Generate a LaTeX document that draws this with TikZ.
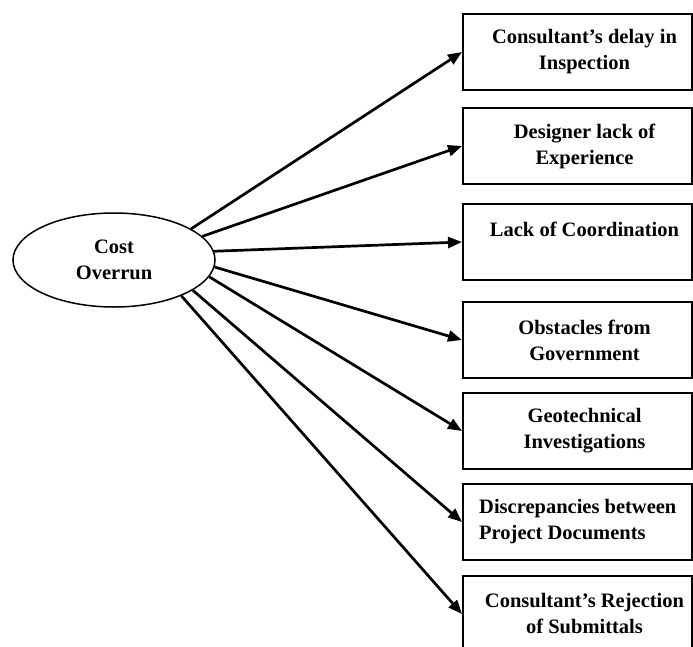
\documentclass[tikz,border=0pt]{standalone}
\usepackage{fontspec}
\setmainfont{Liberation Serif}
\usetikzlibrary{shapes.geometric,arrows.meta}
\begin{document}
\begin{tikzpicture}[x=1pt,y=-1pt,
  every node/.style={font=\fontsize{20.5}{26}\selectfont\bfseries},
  cause/.style={draw,line width=2pt,minimum width=229pt,minimum height=76pt,
    inner sep=0pt,anchor=north west},
  caption/.style={inner sep=0pt,align=center},
  effect/.style={ellipse,draw,line width=1.5pt,minimum width=202pt,
    minimum height=94pt,inner sep=0pt,align=center},
  link/.style={line width=2.7pt,-{Triangle[length=14pt,width=11pt]}}]
\useasboundingbox (0,0) rectangle (693,646);

% central effect
\node[effect] (cost) at (114,260) {Cost\\Overrun};

% cause boxes
\node[cause] (c1) at (462,13)  {};
\node[cause] (c2) at (462,107) {};
\node[cause] (c3) at (462,203) {};
\node[cause] (c4) at (462,301) {};
\node[cause] (c5) at (462,392) {};
\node[cause] (c6) at (462,483) {};
\node[cause] (c7) at (462,575) {};

% box texts, set a little right of centre
\node[caption] (t1) at ([xshift=7pt]c1.center) {Consultant’s delay in\\Inspection};
\node[caption] (t2) at ([xshift=7pt]c2.center) {Designer lack of\\Experience};
\node[caption] (t3) at ([xshift=7pt]c3.center) {Lack of Coordination\\\mbox{}};
\node[caption] (t4) at ([xshift=7pt]c4.center) {Obstacles from\\Government};
\node[caption] (t5) at ([xshift=7pt]c5.center) {Geotechnical\\Investigations};
\node[caption, align=left, anchor=west] (t6) at ([xshift=17pt]c6.west) {Discrepancies between\\Project Documents};
\node[caption] (t7) at ([xshift=7pt]c7.center) {Consultant’s Rejection\\of Submittals};

% connectors
\draw[link] (cost.22)  -- (c1.west);
\draw[link] (cost.15)  -- (c2.west);
\draw[link] (cost.5)   -- (c3.west);
\draw[link] (cost.-4)  -- (c4.west);
\draw[link] (cost.-10) -- (c5.west);
\draw[link] (cost.-21) -- (c6.west);
\draw[link] (cost.-28) -- (c7.west);
\end{tikzpicture}
\end{document}
